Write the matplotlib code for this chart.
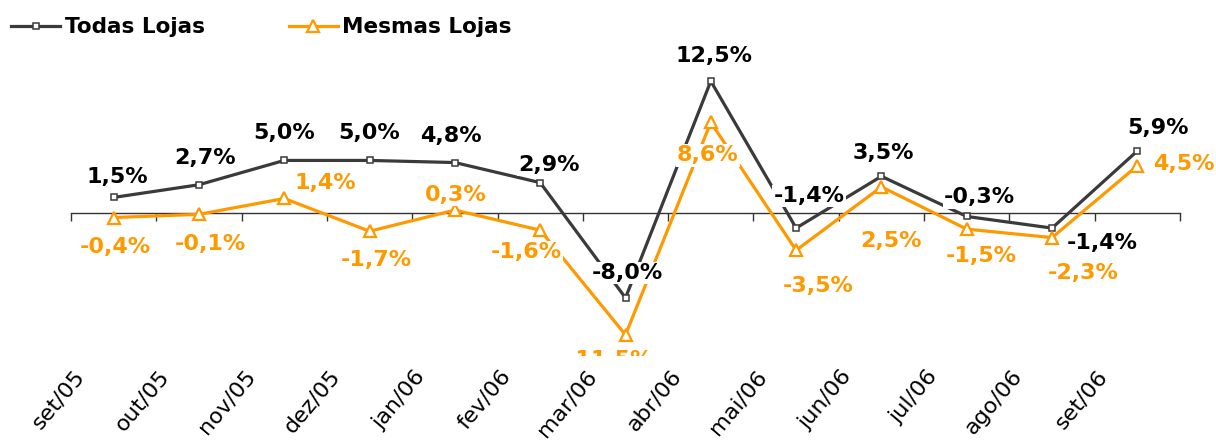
import matplotlib
matplotlib.use('Agg')
import matplotlib.pyplot as plt
import matplotlib.transforms as mtransforms
import numpy as np

# data
meses = ['set/05', 'out/05', 'nov/05', 'dez/05', 'jan/06', 'fev/06', 'mar/06',
         'abr/06', 'mai/06', 'jun/06', 'jul/06', 'ago/06', 'set/06']
todas_lojas = [1.5, 2.7, 5.0, 5.0, 4.8, 2.9, -8.0, 12.5, -1.4, 3.5, -0.3, -1.4, 5.9]
mesmas_lojas = [-0.4, -0.1, 1.4, -1.7, 0.3, -1.6, -11.5, 8.6, -3.5, 2.5, -1.5, -2.3, 4.5]

# label offsets in pixels (dx, dy)
off_todas = [(4, 20), (6, 27), (0, 27), (0, 27), (-4, 27), (9, 18), (2, 25),
             (3, 25), (13, 32), (2, 23), (13, 19), (50, -15), (21, 23)]
off_mesmas = [(2, -29), (11, -30), (41, 15), (7, -29), (1, 15), (-14, -22), (-15, -25),
              (-3, -33), (22, -36), (10, -54), (15, -27), (31, -35), (46, 2)]

cor_todas = '#3a3a3a'
cor_mesmas = '#ff9900'

fig = plt.figure(figsize=(12.16, 4.44), dpi=100)
ax = fig.add_axes([71 / 1216, 1 - 356 / 444, 1109 / 1216, 296 / 444])

x = np.arange(len(meses))
ymin, ymax = -13.5, 14.5

ax.plot(x, todas_lojas, color=cor_todas, lw=2.3, marker='s', ms=5,
        mfc='white', mec=cor_todas, mew=1.1, label='Todas Lojas', zorder=3)
ax.plot(x, mesmas_lojas, color=cor_mesmas, lw=2.3, marker='^', ms=9,
        mfc='white', mec=cor_mesmas, mew=1.6, label='Mesmas Lojas', zorder=3)

# only the bottom edge of the plot area clips the labels
clip = mtransforms.TransformedBbox(
    mtransforms.Bbox([[0, 1 - 356 / 444], [1, 1]]), fig.transFigure)

for serie, offs, cor, z in [(todas_lojas, off_todas, 'black', 5),
                            (mesmas_lojas, off_mesmas, cor_mesmas, 4)]:
    for xi, v, (dx, dy) in zip(x, serie, offs):
        t = ax.annotate(f'{v:.1f}%'.replace('.', ','), (xi, v), xytext=(dx, dy),
                        textcoords='offset pixels', ha='center', va='center',
                        fontsize=16, fontweight='bold', color=cor, zorder=z,
                        bbox=dict(facecolor='white', edgecolor='none', pad=1),
                        annotation_clip=False)
        t.set_clip_on(True)
        t.set_clip_box(clip)

ax.set_xlim(-0.5, len(meses) - 0.5)
ax.set_ylim(ymin, ymax)
ax.set_yticks([])
for s in ax.spines.values():
    s.set_visible(False)

# category labels at the bottom
ax.set_xticks(x)
ax.set_xticklabels(meses, rotation=50, ha='right', va='center',
                   rotation_mode='anchor', fontsize=16)
ax.tick_params(axis='x', length=0, pad=12)
shift = mtransforms.ScaledTranslation(-33 / 100, 0, fig.dpi_scale_trans)
for lbl in ax.get_xticklabels():
    lbl.set_transform(lbl.get_transform() + shift)

# zero axis line with tick marks between categories
frac = (0 - ymin) / (ymax - ymin)
sec = ax.secondary_xaxis(frac)
sec.set_xticks(np.arange(len(meses) + 1) - 0.5)
sec.set_xticklabels([])
sec.tick_params(direction='out', length=6, width=1, color='#333333')
sec.spines['bottom'].set_color('#333333')
sec.spines['bottom'].set_linewidth(1)

fig.legend(loc='upper left', bbox_to_anchor=(0.0, 0.985), ncol=2, frameon=False,
           prop={'weight': 'bold', 'size': 15.5}, handlelength=2.3,
           handletextpad=0.2, columnspacing=3.9, borderaxespad=0.2,
           borderpad=0.3)

fig.savefig('out.png', dpi=100)
